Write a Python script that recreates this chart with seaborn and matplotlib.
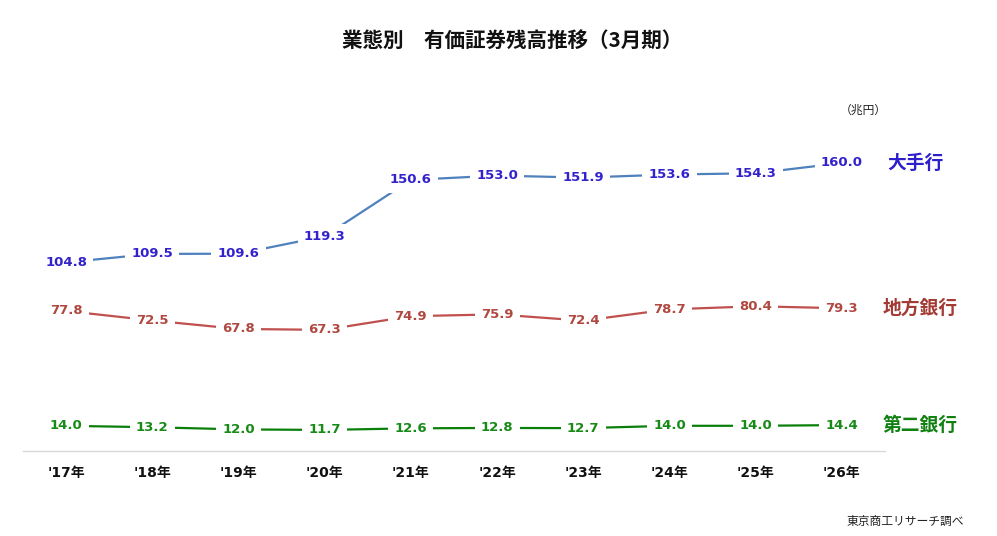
import pandas as pd
import matplotlib.pyplot as plt
import seaborn as sns

years = ["'17年", "'18年", "'19年", "'20年", "'21年", "'22年", "'23年", "'24年", "'25年", "'26年"]
major = [104.8, 109.5, 109.6, 119.3, 150.6, 153.0, 151.9, 153.6, 154.3, 160.0]
regional = [77.8, 72.5, 67.8, 67.3, 74.9, 75.9, 72.4, 78.7, 80.4, 79.3]
second = [14.0, 13.2, 12.0, 11.7, 12.6, 12.8, 12.7, 14.0, 14.0, 14.4]
groups = ["大手行", "地方銀行", "第二銀行"]

line_colors = {"大手行": "#4F81BD", "地方銀行": "#C0504D", "第二銀行": "#0A800A"}
text_colors = {"大手行": "#3322CC", "地方銀行": "#B04840", "第二銀行": "#178A17"}
name_colors = {"大手行": "#2E1FCC", "地方銀行": "#A33A34", "第二銀行": "#108010"}

rows = []
for g, vals in zip(groups, [major, regional, second]):
    for i, v in enumerate(vals):
        rows.append({"x": i, "value": v, "group": g})
df = pd.DataFrame(rows)

sns.set_theme(style="white")
plt.rcParams['font.family'] = ['DejaVu Sans', 'Noto Sans CJK JP']
cjk = ['Noto Sans CJK JP', 'DejaVu Sans']

fig = plt.figure(figsize=(9.97, 5.36), dpi=100)
ax = fig.add_axes([23 / 997, 85 / 536, 862 / 997, 351 / 536])

sns.lineplot(data=df, x="x", y="value", hue="group", palette=line_colors,
             linewidth=1.6, legend=False, ax=ax)

for _, r in df.iterrows():
    ax.text(r["x"], r["value"], f"{r['value']:.1f}", ha="center", va="center",
            fontsize=9.5, fontweight="bold", color=text_colors[r["group"]],
            bbox=dict(facecolor="white", edgecolor="none", pad=4.5), zorder=5)

# series names at the right end
name_x = {"大手行": 9.53, "地方銀行": 9.47, "第二銀行": 9.47}
for g, vals in zip(groups, [major, regional, second]):
    ax.text(name_x[g], vals[-1], g, ha="left", va="center", fontsize=13.5,
            fontweight="bold", color=name_colors[g], family=cjk, clip_on=False)

ax.set_xlim(-0.5, 9.5)
ax.set_ylim(0, 195)
ax.set_xticks(range(len(years)))
ax.set_xticklabels(years, fontsize=10, fontweight="bold", color="#111111")
ax.tick_params(axis="x", length=0, pad=11)
ax.set_yticks([])
ax.set_xlabel("")
ax.set_ylabel("")
for side in ["left", "right", "top"]:
    ax.spines[side].set_visible(False)
ax.spines["bottom"].set_color("#D9D9D9")
ax.spines["bottom"].set_linewidth(1)

fig.text(0.514, 1 - 40 / 536, "業態別　有価証券残高推移（3月期）", ha="center", va="center",
         fontsize=14.8, fontweight="bold", color="#111111", family=cjk)
fig.text(863 / 997, 1 - 110 / 536, "（兆円）", ha="center", va="center",
         fontsize=8.5, color="#222222", family=cjk)
fig.text(905 / 997, 1 - 521 / 536, "東京商工リサーチ調べ", ha="center", va="center",
         fontsize=8.5, color="#222222", family=cjk)

fig.savefig("out.png", dpi=100, facecolor="white")
